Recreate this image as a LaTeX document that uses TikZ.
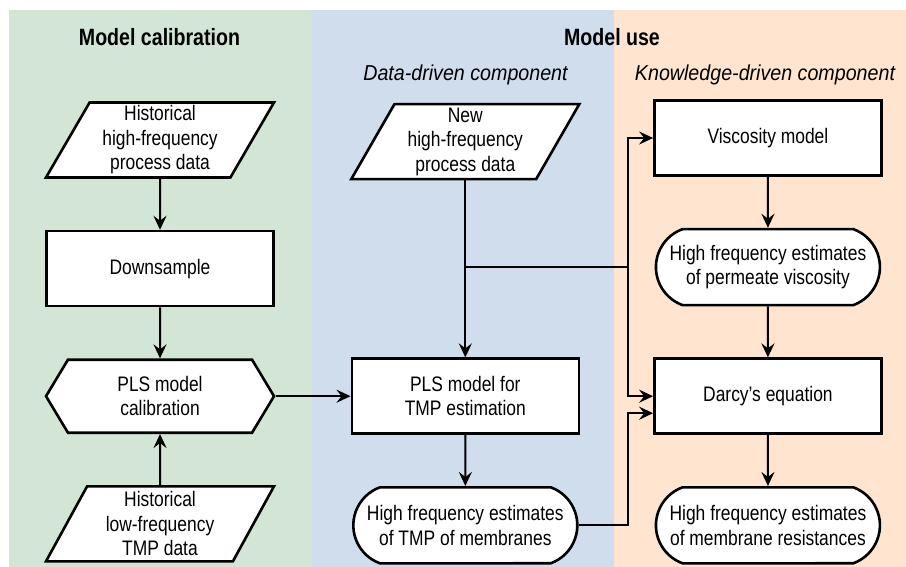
\documentclass[tikz,border=0pt]{standalone}
\usepackage{fontspec}
\setmainfont{Liberation Sans}[FakeStretch=0.83]
\newfontfamily\subheadfont{Liberation Sans}[FakeStretch=0.91]
\usepackage{tikz}
\usetikzlibrary{shapes.geometric, shapes.misc, shapes.symbols, arrows.meta, positioning}
\definecolor{calibgreen}{HTML}{D3E6D5}
\definecolor{datablue}{HTML}{CFDDED}
\definecolor{knoworange}{HTML}{FFE5D0}
\tikzset{
  io/.style={trapezium, trapezium left angle=59, trapezium right angle=121, trapezium stretches body, minimum width=114pt, minimum height=37.5pt, inner sep=1pt, align=center, draw=black, fill=white, line width=1.3pt, font=\fontsize{10.5}{12.25}\selectfont},
  process/.style={rectangle, minimum width=113.5pt, minimum height=37.5pt, align=center, draw=black, fill=white, line width=1.3pt, font=\fontsize{10.5}{12.25}\selectfont},
  prep/.style={signal, signal to=west and east, signal pointer angle=118, minimum width=114pt, minimum height=36.5pt, inner sep=1pt, align=center, draw=black, fill=white, line width=1.3pt, font=\fontsize{10.5}{12.25}\selectfont},
  terminal/.style={rounded rectangle, rounded rectangle arc length=140, minimum width=114pt, minimum height=38pt, inner sep=1pt, align=center, draw=black, fill=white, line width=1.3pt, font=\fontsize{10.5}{12.25}\selectfont},
  heading/.style={anchor=base, font=\bfseries\fontsize{11.8}{14}\selectfont},
  subheading/.style={anchor=base, font=\subheadfont\itshape\fontsize{10.8}{13}\selectfont},
  arrowline/.style={-{Stealth[length=7pt, width=6.5pt, inset=2.5pt]}, line width=1pt},
}

\begin{document}
\begin{tikzpicture}[node distance=25.5pt]
\useasboundingbox (0pt,0pt) rectangle (453pt,-283.5pt);
% background panels
\fill[calibgreen] (4.5pt,-5pt) rectangle (156pt,-283.5pt);
\fill[datablue] (156pt,-5pt) rectangle (307pt,-283.5pt);
\fill[knoworange] (307pt,-5pt) rectangle (453pt,-283.5pt);

\node[heading] (calibtitle) at (79.75pt,-23pt) {Model calibration};
\node[heading] (usetitle) at (306pt,-23pt) {Model use};
\node[subheading] (datatitle) at (232.75pt,-40.5pt) {Data-driven component};
\node[subheading] (knowtitle) at (382.5pt,-40.5pt) {Knowledge-driven component};

% model calibration
\node[io] (histhf) at (80pt,-70pt) {Historical\\high-frequency\\process data};
\node[process, below=of histhf] (downsample) {Downsample};
\node[prep, below=of downsample] (plscal) {PLS model\\calibration};
\node[io, below=of plscal] (histlf) {Historical\\low-frequency\\TMP data};

% data-driven component
\node[process, right=37.5pt of plscal] (plstmp) {PLS model for\\TMP estimation};
\node[io, above=88.5pt of plstmp] (newdata) {New\\high-frequency\\process data};
\node[terminal, below=of plstmp] (tmpest) {High frequency estimates\\of TMP of membranes};

% knowledge-driven component
\node[process, right=36.5pt of plstmp] (darcy) {Darcy’s equation};
\node[terminal, above=of darcy] (permvisc) {High frequency estimates\\of permeate viscosity};
\node[process, above=of permvisc] (viscmodel) {Viscosity model};
\node[terminal, below=of darcy] (resist) {High frequency estimates\\of membrane resistances};

\coordinate (split) at (newdata.south |- permvisc.west);
\coordinate (busx) at ([xshift=-12.5pt]darcy.west);
\coordinate (bus) at (busx |- permvisc.west);
\coordinate (darcylow) at ([yshift=-8.5pt]darcy.west);
\coordinate (buslow) at (busx |- darcylow);

\draw[arrowline] (histhf) -- (downsample);
\draw[arrowline] (downsample) -- (plscal);
\draw[arrowline] (histlf) -- (plscal);
\draw[arrowline] (plscal.east) -- (plstmp.west);
\draw[arrowline] (newdata.south) -- (plstmp.north);
\draw[line width=1pt] (split) -- (bus);
\draw[arrowline] (bus) |- (viscmodel.west);
\draw[arrowline] (bus) |- (darcy.west);
\draw[arrowline] (plstmp) -- (tmpest);
\draw[arrowline] (tmpest.east) -| (buslow) -- (darcylow);
\draw[arrowline] (viscmodel) -- (permvisc);
\draw[arrowline] (permvisc) -- (darcy);
\draw[arrowline] (darcy) -- (resist);
\end{tikzpicture}
\end{document}
